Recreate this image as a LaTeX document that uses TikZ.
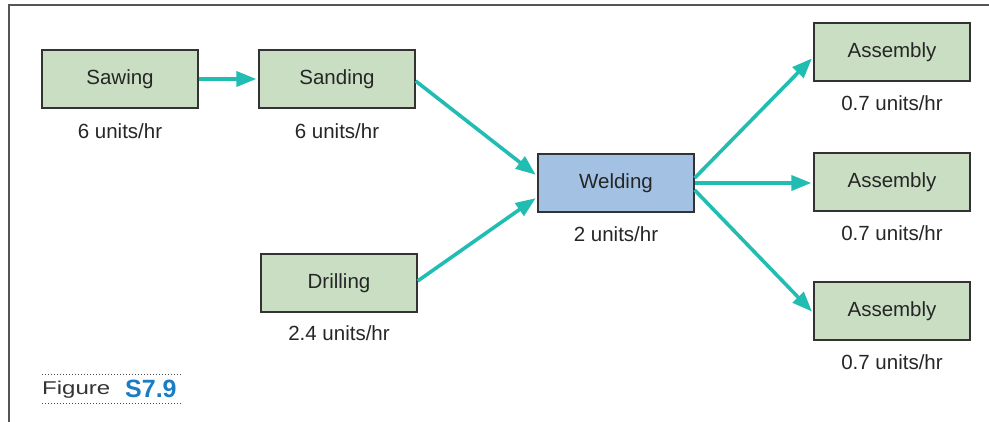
\documentclass[tikz,border=0pt]{standalone}
\usepackage{fontspec}
\setmainfont{Liberation Sans}
\newfontfamily\figwordfont[FakeStretch=1.3]{Liberation Sans}
\usetikzlibrary{arrows.meta}
\definecolor{boxgreen}{HTML}{C9DEC2}
\definecolor{boxblue}{HTML}{A3C2E3}
\definecolor{arrowteal}{HTML}{22BDB2}
\definecolor{figblue}{HTML}{1A7CC4}
\definecolor{edgegray}{HTML}{333333}
\definecolor{framegray}{HTML}{555555}
\begin{document}
\begin{tikzpicture}[x=1pt,y=-1pt,
  procbox/.style={draw=edgegray, line width=1.3pt, minimum width=156pt, minimum height=58pt, inner sep=0pt, font=\fontsize{20.5}{24}\selectfont, text=black!85},
  greenbox/.style={procbox, fill=boxgreen},
  bluebox/.style={procbox, fill=boxblue},
  ratelbl/.style={inner sep=0pt, font=\fontsize{20.5}{24}\selectfont, text=black!85},
  flow/.style={draw=arrowteal, line width=3.6pt, -{Triangle[length=20pt,width=15pt]}, shorten >=2pt},
  dotline/.style={draw=black!70, line width=1pt, dotted}
]
\useasboundingbox (0,0) rectangle (989,422);
\draw[framegray, line width=1.5pt] (9,422) -- (9,5) -- (989,5);

\node[greenbox] (saw) at (120,79) {Sawing};
\node[greenbox] (sand) at (337,79) {Sanding};
\node[greenbox] (drill) at (339,283) {Drilling};
\node[bluebox] (weld) at (616,183) {Welding};
\node[greenbox] (asm1) at (892,52) {Assembly};
\node[greenbox] (asm2) at (892,182) {Assembly};
\node[greenbox] (asm3) at (892,311) {Assembly};

\node[ratelbl] (rsaw) at ([yshift=-23pt]saw.south) {6 units/hr};
\node[ratelbl] (rsand) at ([yshift=-23pt]sand.south) {6 units/hr};
\node[ratelbl] (rdrill) at ([yshift=-21pt]drill.south) {2.4 units/hr};
\node[ratelbl] (rweld) at ([yshift=-22pt]weld.south) {2 units/hr};
\node[ratelbl] (rasm1) at ([yshift=-22pt]asm1.south) {0.7 units/hr};
\node[ratelbl] (rasm2) at ([yshift=-22pt]asm2.south) {0.7 units/hr};
\node[ratelbl] (rasm3) at ([yshift=-22pt]asm3.south) {0.7 units/hr};

\draw[flow] (saw.east) -- (sand.west);
\draw[flow] ([yshift=-2pt]sand.east) -- ([yshift=7pt]weld.west);
\draw[flow] ([yshift=2pt]drill.east) -- ([yshift=-14pt]weld.west);
\draw[flow] ([yshift=5pt]weld.east) -- ([yshift=-5pt]asm1.west);
\draw[flow] (weld.east) -- (asm2.west |- weld.east);
\draw[flow] ([yshift=-7pt]weld.east) -- ([yshift=-2pt]asm3.west);

\node[anchor=base west, inner sep=0pt, text=black!80, font=\figwordfont\fontsize{18.5}{22}\selectfont] (figword) at (42,395) {Figure};
\node[anchor=base west, inner sep=0pt, text=figblue, font=\fontsize{25}{28}\selectfont\bfseries] (fignum) at (125,398) {S7.9};
\coordinate (dotA) at (42,375);
\coordinate (dotB) at (181,375);
\coordinate (dotC) at (42,403);
\coordinate (dotD) at (181,403);
\draw[dotline] (dotA) -- (dotB);
\draw[dotline] (dotC) -- (dotD);
\end{tikzpicture}
\end{document}
